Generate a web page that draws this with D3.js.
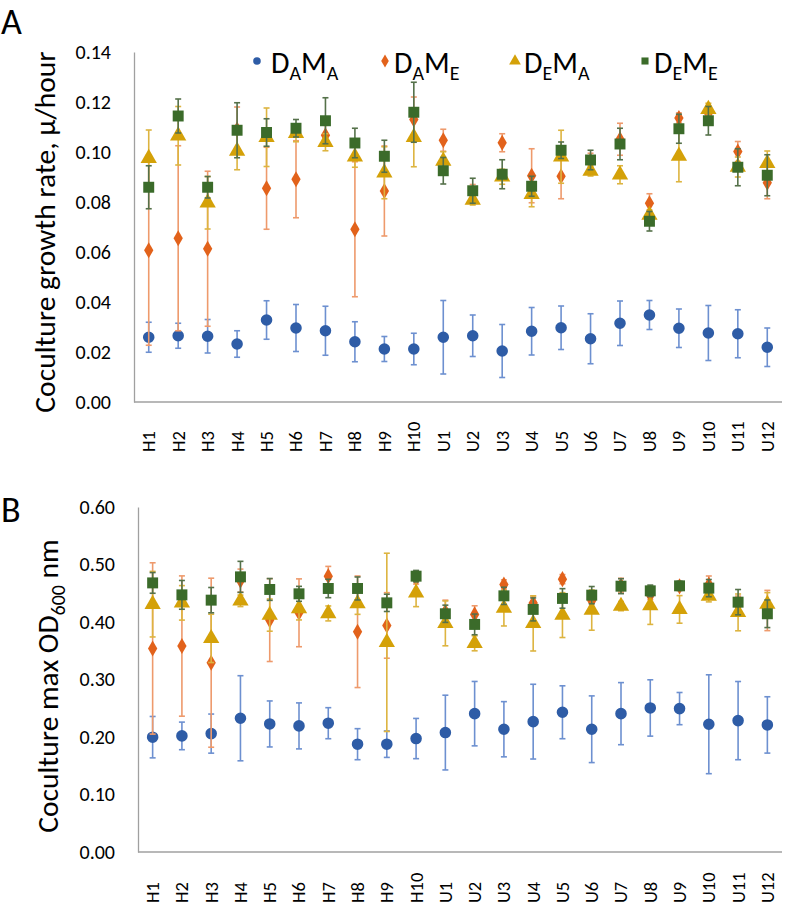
<!DOCTYPE html>
<html><head><meta charset="utf-8">
<script src="https://cdn.jsdelivr.net/npm/d3@7"></script>
<style>
html,body{margin:0;padding:0;background:#fff;}
svg text{font-family:Carlito,Lato,"Open Sans",sans-serif;fill:#000;}
</style></head>
<body><svg id="c" width="787" height="907"></svg>
<script>
const categories = ["H1","H2","H3","H4","H5","H6","H7","H8","H9","H10","U1","U2","U3","U4","U5","U6","U7","U8","U9","U10","U11","U12"];
const seriesNames = [["D","A","M","A"],["D","A","M","E"],["D","E","M","A"],["D","E","M","E"]];
const growthTicks = [0,0.02,0.04,0.06,0.08,0.10,0.12,0.14];
const odTicks = [0,0.1,0.2,0.3,0.4,0.5,0.6];

// Panel A: coculture growth rate (mean, error)
const gDAMA    = [0.0259,0.0265,0.0263,0.0232,0.0328,0.0296,0.0285,0.0241,0.0212,0.0212,0.0259,0.0265,0.0204,0.0283,0.0297,0.0253,0.0315,0.0348,0.0295,0.0276,0.0273,0.0219];
const gDAMAerr = [0.006,0.005,0.0067,0.0053,0.0077,0.0094,0.0098,0.008,0.005,0.0063,0.0147,0.0083,0.0106,0.0095,0.0087,0.01,0.0089,0.0058,0.0077,0.011,0.0096,0.0077];
const gDAME    = [0.0607,0.0655,0.0613,0.109,0.0855,0.0891,0.1067,0.0691,0.0844,0.113,0.1047,0.084,0.1037,0.0905,0.0903,0.0965,0.1051,0.0795,0.1136,0.1155,0.1002,0.0877];
const gDAMEerr = [0.038,0.037,0.031,0.009,0.0164,0.0154,0.004,0.027,0.018,0.009,0.0044,0.003,0.0036,0.0108,0.009,0.003,0.0064,0.0038,0.002,0.003,0.004,0.0064];
const gDEMA    = [0.0975,0.1065,0.0797,0.1004,0.1059,0.1075,0.1039,0.0981,0.0917,0.1059,0.0964,0.0808,0.0901,0.0831,0.0981,0.0924,0.0909,0.0748,0.0984,0.1171,0.094,0.0955];
const gDEMAerr = [0.0113,0.0117,0.0105,0.0075,0.0117,0.0034,0.0034,0.0042,0.0104,0.0118,0.0037,0.002,0.003,0.005,0.0106,0.002,0.0036,0.002,0.0103,0.0024,0.004,0.0049];
const gDEME    = [0.0859,0.1144,0.0859,0.1087,0.1078,0.1095,0.1125,0.1036,0.0983,0.1159,0.0925,0.0845,0.0911,0.0863,0.1007,0.0968,0.1032,0.0723,0.1093,0.1125,0.0939,0.0907];
const gDEMEerr = [0.0086,0.0068,0.0043,0.011,0.0055,0.0035,0.0092,0.0059,0.0064,0.012,0.0053,0.005,0.0058,0.004,0.0033,0.0039,0.0063,0.0039,0.0058,0.0057,0.0074,0.0082];

// Panel B: coculture max OD600 (mean, error)
const odDAMA    = [0.1997,0.2019,0.2059,0.2326,0.2227,0.2193,0.224,0.1875,0.1875,0.1973,0.2077,0.2406,0.2135,0.2267,0.243,0.2135,0.2406,0.2505,0.2494,0.2222,0.2285,0.221];
const odDAMAerr = [0.036,0.024,0.034,0.074,0.04,0.04,0.027,0.027,0.023,0.035,0.065,0.056,0.048,0.065,0.046,0.058,0.054,0.049,0.028,0.086,0.068,0.049];
const odDAME    = [0.354,0.3582,0.3292,0.472,0.4033,0.416,0.4797,0.383,0.394,0.476,0.418,0.4132,0.4653,0.433,0.4745,0.437,0.464,0.447,0.462,0.465,0.43,0.42];
const odDAMEerr = [0.149,0.122,0.147,0.02,0.072,0.059,0.017,0.097,0.057,0.01,0.02,0.015,0.008,0.012,0.008,0.01,0.012,0.008,0.006,0.015,0.015,0.035];
const odDEMA    = [0.431,0.4333,0.3715,0.4368,0.412,0.4236,0.4149,0.4323,0.3646,0.4507,0.3976,0.3629,0.4241,0.3976,0.412,0.4207,0.4276,0.4288,0.4219,0.445,0.4167,0.4311];
const odDEMAerr = [0.057,0.03,0.042,0.01,0.028,0.02,0.013,0.019,0.155,0.024,0.039,0.013,0.031,0.048,0.039,0.035,0.008,0.033,0.024,0.01,0.032,0.02];
const odDEME    = [0.468,0.4472,0.438,0.4785,0.4566,0.449,0.4583,0.4583,0.4333,0.4797,0.4143,0.3958,0.4455,0.4219,0.441,0.4467,0.4623,0.4542,0.4629,0.4589,0.4345,0.4143];
const odDEMEerr = [0.018,0.025,0.022,0.027,0.019,0.013,0.016,0.02,0.015,0.01,0.015,0.018,0.015,0.02,0.017,0.015,0.013,0.01,0.008,0.015,0.022,0.024];

const markerColors = ["#2E5CA6","#E2621B","#D4A108","#3B6B2A"];
const barColors    = ["#6D90D0","#EE9A6C","#DDB440","#55714A"];
const shapes = [d3.symbolCircle, d3.symbolDiamond, d3.symbolTriangle, d3.symbolSquare];
const sizes  = [105, 75, 115, 120];

const svg = d3.select("#c");

function panel(cfg){
  const x = d3.scaleBand().domain(categories).range([cfg.x0, 782]);
  const y = d3.scaleLinear().domain(cfg.domain).range([cfg.y0, cfg.y1]);
  const g = svg.append("g");
  const ya = g.append("g").attr("transform",`translate(${cfg.x0},0)`)
    .call(d3.axisLeft(y).tickValues(cfg.ticks).tickFormat(d3.format(".2f")).tickSize(0).tickPadding(cfg.x0 - cfg.labelRight));
  ya.select(".domain").attr("stroke","#a0a0a0").attr("stroke-width",1.3);
  ya.selectAll("text").attr("font-size",20).attr("font-family",null);
  const xa = g.append("g").attr("transform",`translate(0,${cfg.y0})`)
    .call(d3.axisBottom(x).tickSize(0).tickFormat(d=>d));
  xa.select(".domain").attr("stroke","#a0a0a0").attr("stroke-width",1.3).attr("d",`M${cfg.x0},0H782`);
  xa.selectAll("text").attr("font-size",18.5).attr("font-family",null)
    .attr("text-anchor","start").attr("transform",`translate(0,${cfg.labelStart - cfg.y0}) rotate(-90)`)
    .attr("x",0).attr("y",0).attr("dy","0.35em");
  cfg.series.forEach((s,i)=>{
    const sg = g.append("g");
    categories.forEach((c,j)=>{
      const cx = x(c) + x.bandwidth()/2;
      const lo = y(s.v[j]-s.e[j]), hi = y(s.v[j]+s.e[j]);
      sg.append("line").attr("x1",cx).attr("x2",cx).attr("y1",lo).attr("y2",hi)
        .attr("stroke",barColors[i]).attr("stroke-width",1.6);
      [lo,hi].forEach(yy=>sg.append("line").attr("x1",cx-3).attr("x2",cx+3).attr("y1",yy).attr("y2",yy)
        .attr("stroke",barColors[i]).attr("stroke-width",1.6));
    });
    sg.selectAll("path.m").data(s.v).join("path").attr("class","m")
      .attr("d",d3.symbol().type(shapes[i]).size(sizes[i]))
      .attr("transform",(d,j)=>`translate(${x(categories[j])+x.bandwidth()/2},${y(d)})`)
      .attr("fill",markerColors[i]);
  });
  const t = g.append("text").attr("transform",`translate(${cfg.titleX},${cfg.titleY}) rotate(-90)`)
    .attr("text-anchor","middle").attr("font-size",29.5);
  cfg.title(t);
  g.append("text").attr("x",cfg.letterX).attr("y",cfg.letterY).attr("font-size",36).text(cfg.letter);
  return {x,y};
}

panel({x0:134, y0:402, y1:52, domain:[0,0.14], ticks:growthTicks, labelRight:111, labelStart:452,
  series:[{v:gDAMA,e:gDAMAerr},{v:gDEME.length?gDAME:gDAME,e:gDAMEerr},{v:gDEMA,e:gDEMAerr},{v:gDEME,e:gDEMEerr}],
  titleX:55, titleY:232, title:t=>t.text("Coculture growth rate, \u03bc/hour"),
  letter:"A", letterX:1, letterY:34});

panel({x0:138, y0:852, y1:507, domain:[0,0.6], ticks:odTicks, labelRight:115, labelStart:903,
  series:[{v:odDAMA,e:odDAMAerr},{v:odDAME,e:odDAMEerr},{v:odDEMA,e:odDEMAerr},{v:odDEME,e:odDEMEerr}],
  titleX:58, titleY:686, title:t=>{t.append("tspan").text("Coculture max OD");
    t.append("tspan").attr("font-size",20).attr("dy",7).text("600");
    t.append("tspan").attr("dy",-7).text(" nm");},
  letter:"B", letterX:1, letterY:522});

const legX = [257,385,515,645];
const leg = svg.append("g");
seriesNames.forEach((n,i)=>{
  leg.append("path").attr("d",d3.symbol().type(shapes[i]).size(i===0?45:(i===2?60:50)))
    .attr("transform",`translate(${legX[i]},61)`).attr("fill",markerColors[i]);
  const t = leg.append("text").attr("x",legX[i]+(i===0?14:9)).attr("y",73).attr("font-size",30);
  t.append("tspan").text(n[0]);
  t.append("tspan").attr("font-size",20).attr("dy",7).text(n[1]);
  t.append("tspan").attr("dy",-7).text(n[2]);
  t.append("tspan").attr("font-size",20).attr("dy",7).text(n[3]);
});
</script></body></html>
